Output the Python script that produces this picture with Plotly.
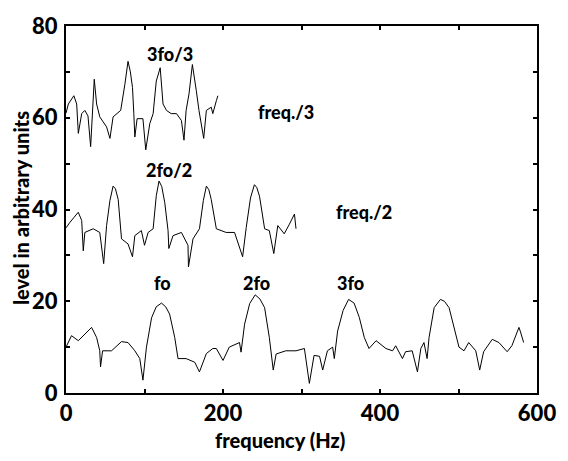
import plotly.graph_objects as go

# Spectrum of the original signal (harmonics fo, 2fo, 3fo, ...)
freq_full = [0, 7, 15.7, 25, 32.6, 39, 43, 44, 46.6, 58, 70.7, 79, 87.7, 94, 98, 102.5, 109, 115, 121.6, 127,
             132, 138.5, 142.7, 153, 164, 170, 178.8, 187, 191.5, 200, 208, 221, 223, 227.5, 234, 241, 247, 253, 259, 264,
             267.7, 280, 293, 303.7, 310, 316, 323, 327, 333, 339.7, 341.8, 346, 353, 360, 367, 373.6, 380, 386, 395, 407.5,
             416, 420, 428.6, 432.6, 441, 447.7, 452, 456, 460, 462.5, 469, 477, 482, 488, 494, 500.6, 507, 513, 522, 527,
             532, 543, 551.5, 562, 568, 577, 579, 583]
level_full = [10, 12.5, 11.4, 13, 14.3, 12.1, 9.2, 5.7, 9.2, 9.2, 11.2, 11, 9.2, 7.5, 2.8, 10, 16.4, 18.8, 19.6, 18.8,
              17.2, 12.1, 7.5, 7.5, 6.7, 4.6, 8.6, 9.7, 9.7, 7.1, 10, 11, 8.9, 15, 19.5, 21.4, 20.5, 18.6, 12.1, 5,
              8.5, 9.2, 9.2, 9.7, 2.1, 8.2, 8, 5, 9.2, 10, 7.5, 13.5, 18, 20.4, 19.6, 16.5, 12.1, 9.7, 11.4, 9.7,
              9.2, 10.3, 7.5, 9, 9.2, 4.6, 9.7, 11, 7.5, 12.1, 18.6, 20.4, 20, 18.6, 14.3, 10, 9.2, 11, 9.2, 5,
              9, 11.7, 11, 9, 10.3, 14.3, 13.3, 11]

# Spectrum with frequency divided by 2
freq_half = [0, 5, 15.6, 20, 22, 24, 34.7, 43, 48, 51.7, 56, 60, 63, 66.5, 70.7, 79, 84.7, 87.7, 96, 100,
             104.6, 111, 115, 118.5, 122, 125.8, 130, 131, 136.3, 147, 155.4, 156, 161.8, 170, 175, 178.8, 182, 185, 191.5, 204,
             214.7, 225, 229.6, 235, 240, 243, 246.5, 253, 259, 264.7, 269.8, 278, 284.6, 291, 293]
level_half = [36, 37.2, 39.4, 37.6, 31, 35, 35.8, 35, 28.2, 36.5, 42, 45.1, 44.5, 42.2, 33.6, 32.5, 29.7, 34.3, 35.4, 32.2,
              35, 35.8, 43, 46.2, 45, 41.5, 35.4, 31.5, 34.3, 35, 32.2, 27.5, 33.6, 35.8, 42, 45.1, 44.3, 42.2, 35.8, 35,
              35, 29.7, 36.1, 42.5, 45.4, 44.8, 42.9, 35.8, 35.4, 30.4, 36.5, 34.7, 36.8, 39, 35.8]

# Spectrum with frequency divided by 3
freq_third = [0, 3, 10, 13.6, 15.7, 20, 24, 28, 31.4, 34, 36, 39, 43, 51.7, 56, 60, 64.4, 69.7, 75, 79,
              82, 84.7, 86.4, 87.7, 90.6, 98, 101.6, 106.7, 111, 115, 120, 123.6, 128, 134, 140.8, 147, 150.3, 153, 156.7, 161,
              166, 169.4, 175.4, 178.8, 185, 187, 191.5, 193.5]
level_third = [61, 63, 64.8, 63, 56.6, 60.9, 61.6, 60.4, 53.7, 62.3, 68.4, 63, 60.2, 58, 55.5, 60.2, 60.9, 61.6, 67.3, 72.3,
               70, 66.6, 60.9, 55.8, 59.8, 59.8, 53, 58.7, 60.9, 68, 70.9, 63, 61.6, 60.9, 60.9, 59.4, 55.1, 61.6, 65.2, 71.6,
               65.9, 61.6, 55.5, 61.6, 62.3, 60.9, 63.7, 64.8]

# Text labels: (text, x, y)
labels = [
    ("3fo/3", 132, 73.8),
    ("freq./3", 280, 61.3),
    ("2fo/2", 131, 48.7),
    ("freq./2", 380, 39.4),
    ("fo", 123, 23.9),
    ("2fo", 243, 23.9),
    ("3fo", 363, 23.9),
]

FONT = "Lato"
WEIGHT = 900
line_style = dict(color="black", width=1)

fig = go.Figure()
for fx, fy in [(freq_full, level_full), (freq_half, level_half), (freq_third, level_third)]:
    fig.add_trace(go.Scatter(x=fx, y=fy, mode="lines", line=line_style,
                             showlegend=False, hoverinfo="skip"))

for txt, lx, ly in labels:
    fig.add_annotation(x=lx, y=ly, text=txt, showarrow=False,
                       font=dict(family=FONT, size=18, color="black", weight=WEIGHT))

axis_common = dict(
    showgrid=False, zeroline=False, showline=True, linecolor="black", linewidth=2,
    mirror="ticks", ticks="inside", ticklen=4, tickwidth=1.5, tickcolor="black",
    tickfont=dict(family=FONT, size=22, color="black", weight=WEIGHT),
)

fig.update_xaxes(range=[0, 600], tickvals=[0, 200, 400, 600],
                 minor=dict(dtick=100, ticks="inside", ticklen=4, tickcolor="black"),
                 **axis_common)
fig.update_yaxes(range=[0, 80], tickvals=[0, 20, 40, 60, 80], ticklabelstandoff=2,
                 minor=dict(dtick=10, ticks="inside", ticklen=4, tickcolor="black"),
                 **axis_common)

fig.add_annotation(xref="paper", yref="paper", x=0.455, y=-0.128, text="frequency (Hz)",
                   showarrow=False, yanchor="middle",
                   font=dict(family=FONT, size=20, color="black", weight=WEIGHT))
fig.add_annotation(xref="paper", yref="paper", x=-0.097, y=0.505, text="level in arbitrary units",
                   showarrow=False, textangle=-90, xanchor="center",
                   font=dict(family=FONT, size=20, color="black", weight=WEIGHT))

fig.update_layout(
    width=568, height=461,
    margin=dict(l=66, r=30, t=21, b=68),
    plot_bgcolor="white", paper_bgcolor="white",
)

fig.write_html("out.html")
